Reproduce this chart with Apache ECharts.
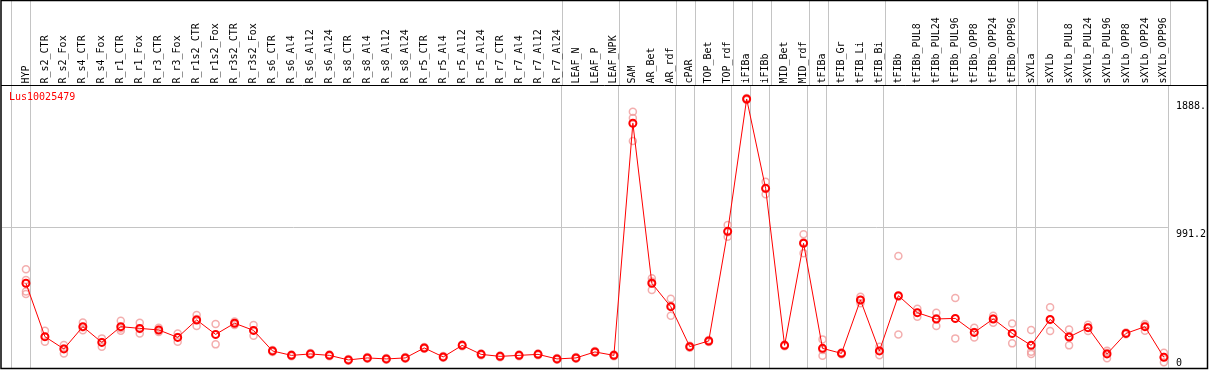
<!DOCTYPE html>
<html>
<head>
<meta charset="utf-8">
<script src="https://cdn.jsdelivr.net/npm/echarts@6/dist/echarts.min.js"></script>
<style>
html,body{margin:0;padding:0;background:#fff;}
#chart{width:1209px;height:370px;}
</style>
</head>
<body>
<div id="chart"></div>
<script>
// ---- data ----
const GENE = 'Lus10025479';
const CATEGORIES = ['HYP','R_s2_CTR','R_s2_Fox','R_s4_CTR','R_s4_Fox','R_r1_CTR','R_r1_Fox','R_r3_CTR','R_r3_Fox',
  'R_r1s2_CTR','R_r1s2_Fox','R_r3s2_CTR','R_r3s2_Fox','R_s6_CTR','R_s6_Al4','R_s6_Al12','R_s6_Al24',
  'R_s8_CTR','R_s8_Al4','R_s8_Al12','R_s8_Al24','R_r5_CTR','R_r5_Al4','R_r5_Al12','R_r5_Al24',
  'R_r7_CTR','R_r7_Al4','R_r7_Al12','R_r7_Al24','LEAF_N','LEAF_P','LEAF_NPK','SAM','AR_Bet','AR_rdf',
  'cPAR','TOP_Bet','TOP_rdf','iFIBa','iFIBb','MID_Bet','MID_rdf','tFIBa','tFIB_Gr','tFIB_Li','tFIB_Bi',
  'tFIBb','tFIBb_PUL8','tFIBb_PUL24','tFIBb_PUL96','tFIBb_OPP8','tFIBb_OPP24','tFIBb_OPP96',
  'sXYLa','sXYLb','sXYLb_PUL8','sXYLb_PUL24','sXYLb_PUL96','sXYLb_OPP8','sXYLb_OPP24','sXYLb_OPP96'];
// sizes of the sample groups separated by vertical lines
const GROUP_SIZES = [1,28,3,3,1,2,1,1,2,1,3,7,1,7];
// mean expression per sample
const MEANS = [597,223,137,293,183,293,281,270,218,340,239,317,267,123,92,102,92,60,74,67,74,144,81,162,99,85,92,99,67,74,116,92,
  1718,597,433,153,193,961,1888,1262,162,877,141,106,480,123,510,391,347,351,253,347,246,162,344,221,286,102,246,293,78];
// replicate values
const REP_A = [695,265,165,323,211,335,321,285,246,375,312,330,305,130,98,108,98,66,80,73,80,150,87,168,105,91,98,105,73,80,122,98,
  1799,632,489,160,200,1005,1895,1309,168,940,204,112,503,153,788,419,391,494,286,370,316,270,429,274,307,125,252,312,111];
const REP_B = [620,222,140,289,185,280,276,270,220,347,236,317,267,123,92,102,92,60,74,67,74,144,81,162,99,85,92,99,67,74,116,92,
  1755,610,440,153,193,955,1888,1258,162,884,130,106,480,124,503,391,352,348,255,350,246,118,340,227,288,110,246,302,80];
const REP_C = [540,188,105,268,153,265,246,255,188,298,169,304,230,116,86,96,86,54,68,61,68,138,75,156,93,79,86,93,61,68,110,86,
  1594,550,370,146,186,923,1881,1220,156,807,90,100,457,92,239,363,298,211,218,321,176,102,263,162,263,71,240,265,43];
const REP_D = [522];
const Y_MAX_VALUE = 1888.0;
const Y_TICKS = [991.2, 1888.0];
const Y_ZERO = [0];

// ---- layout constants ----
const SLOT_OFFSET = 15/19;   // point sits 15px into a 19px slot
const X_MIN = -24/19;
const X_MAX = CATEGORIES.length - SLOT_OFFSET;
const FONT = 'DejaVu Sans Mono';
const GRAY = '#c4c4c4';

const bounds = [0];
GROUP_SIZES.forEach(s => bounds.push(bounds[bounds.length-1] + s));
const boundVals = bounds.map(k => k - SLOT_OFFSET);
const labelIdx = CATEGORIES.map((c, i) => i);

const repData = [];
[REP_A, REP_B, REP_C, REP_D].forEach(arr => arr.forEach((v, i) => { if (v != null) repData.push([i, v]); }));
const meanData = MEANS.map((v, i) => [i, v]);
const fmt = v => v === 0 ? '0' : v.toFixed(1).slice(0, 5);

const chart = echarts.init(document.getElementById('chart'));
chart.setOption({
  animation: false,
  backgroundColor: '#fff',
  title: {
    text: GENE, left: 9, top: 92, padding: 0,
    textStyle: {color: '#ff0000', fontFamily: FONT, fontSize: 10, fontWeight: 'normal'}
  },
  grid: [
    {left: 2, right: 38.7, top: 0, height: 85.5},
    {left: 2, right: 38.7, top: 85.5, bottom: 1.5}
  ],
  xAxis: [
    {gridIndex: 0, type: 'value', min: X_MIN, max: X_MAX,
      axisLine: {show: false}, axisTick: {show: false, customValues: boundVals},
      axisLabel: {show: false}, splitLine: {show: true, lineStyle: {color: GRAY, width: 1}}},
    {gridIndex: 1, type: 'value', position: 'top', min: X_MIN, max: X_MAX,
      axisLine: {show: false}, axisTick: {show: false, customValues: boundVals},
      axisLabel: {customValues: labelIdx, formatter: v => CATEGORIES[Math.round(v)], rotate: 90, margin: 2,
        fontFamily: FONT, fontSize: 10, color: '#000', showMinLabel: true, showMaxLabel: true},
      splitLine: {show: true, lineStyle: {color: GRAY, width: 1}}}
  ],
  yAxis: [
    {gridIndex: 0, type: 'value', min: 0, max: 1, show: false},
    {gridIndex: 1, type: 'value', position: 'right', min: 0, max: Y_MAX_VALUE * 1.05, interval: Y_MAX_VALUE * 1.05 / 2,
      axisLine: {show: false}, axisTick: {show: false},
      axisLabel: {customValues: Y_TICKS, formatter: fmt, verticalAlign: 'top', margin: 8, padding: [2, 0, 0, 0],
        fontFamily: FONT, fontSize: 10, color: '#000'},
      splitLine: {show: true, showMinLine: false, showMaxLine: false, lineStyle: {color: GRAY, width: 1}}},
    {gridIndex: 1, type: 'value', position: 'right', min: 0, max: Y_MAX_VALUE * 1.05,
      axisLine: {show: false}, axisTick: {show: false},
      axisLabel: {customValues: Y_ZERO, formatter: fmt, verticalAlign: 'bottom', margin: 8,
        fontFamily: FONT, fontSize: 10, color: '#000'},
      splitLine: {show: false}}
  ],
  series: [
    {type: 'scatter', xAxisIndex: 0, yAxisIndex: 0, data: [], silent: true},
    {name: 'replicates', type: 'scatter', xAxisIndex: 1, yAxisIndex: 1, data: repData,
      symbol: 'circle', symbolSize: 7,
      itemStyle: {color: 'rgba(0,0,0,0)', borderColor: '#f09a9a', borderWidth: 1.5}, z: 2},
    {name: 'mean', type: 'line', xAxisIndex: 1, yAxisIndex: 1, data: meanData,
      symbol: 'circle', symbolSize: 7, showAllSymbol: true,
      lineStyle: {color: '#ff0000', width: 1},
      itemStyle: {color: 'rgba(0,0,0,0)', borderColor: '#ff0000', borderWidth: 2}, z: 3}
  ],
  graphic: [
    {type: 'rect', shape: {x: 1, y: 0.5, width: 1206.5, height: 368}, style: {fill: 'none', stroke: '#000', lineWidth: 1.5}, z: 10, silent: true},
    {type: 'line', shape: {x1: 1, y1: 85.5, x2: 1207.5, y2: 85.5}, style: {stroke: '#000', lineWidth: 1}, z: 10, silent: true}
  ]
});
</script>
</body>
</html>
